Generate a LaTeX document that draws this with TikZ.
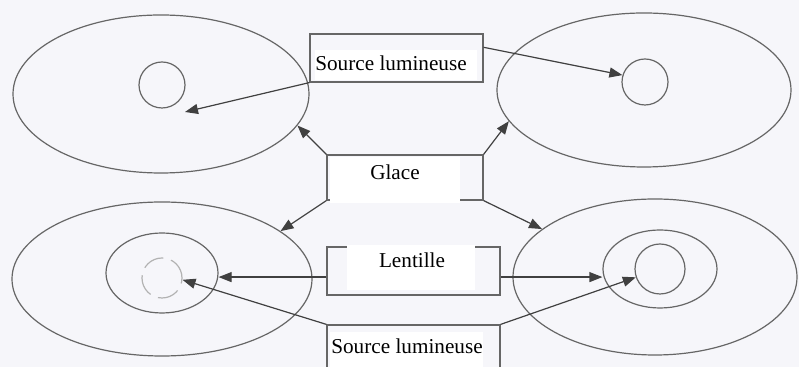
\documentclass[tikz,border=0pt]{standalone}
\usepackage{fontspec}
\setmainfont{Liberation Serif}
\usetikzlibrary{shapes.geometric,arrows.meta}
\definecolor{fond}{RGB}{246,246,250}
\tikzset{
  oval/.style={ellipse,draw=black!60,line width=0.6pt,inner sep=0pt},
  rond/.style={circle,draw=black!60,line width=0.6pt,inner sep=0pt},
  boite/.style={draw=black!60,line width=0.6pt,inner sep=0pt},
  blanc/.style={fill=white,inner sep=0pt},
  txt/.style={inner sep=0pt,font=\fontsize{10.6}{12}\selectfont},
  fl/.style={draw=black!75,line width=0.6pt,-{Triangle[length=6.5pt,width=5pt]}}
}
\begin{document}
\begin{tikzpicture}[x=0.5pt,y=-0.5pt]
\fill[fond] (0,0) rectangle (799,367);
\useasboundingbox (0,0) rectangle (799,367);
% les quatre ovales
\node[oval,minimum width=148pt,minimum height=79pt] (hg) at (161,94) {};
\node[oval,minimum width=147pt,minimum height=77pt] (hd) at (644,90) {};
\node[oval,minimum width=150pt,minimum height=77pt] (bg) at (162,279) {};
\node[oval,minimum width=142pt,minimum height=78pt] (bd) at (655,277) {};
\node[oval,minimum width=56pt,minimum height=40pt] (bgi) at (162,273) {};
\node[oval,minimum width=57pt,minimum height=39pt] (bdi) at (660,269) {};
\node[rond,minimum size=23pt] (chg) at (162,85) {};
\node[rond,minimum size=23pt] (chd) at (645,82) {};
\node[rond,minimum size=20pt,draw=black!30,dash pattern=on 11pt off 4pt] (cbg) at (162,278) {};
\node[rond,minimum size=25pt] (cbd) at (660,269) {};
% les cadres
\node[boite,minimum width=86.5pt,minimum height=24pt] (src1) at (396.5,58) {};
\node[boite,minimum width=78pt,minimum height=22.5pt] (glace) at (405,177.5) {};
\node[boite,minimum width=86.5pt,minimum height=24pt] (lent) at (413.5,271) {};
\node[boite,minimum width=86.5pt,minimum height=27.5pt] (src2) at (413.5,352.5) {};
% les textes
\node[blanc,minimum width=81pt,minimum height=15pt] (p1) at (396,65) {};
\node[txt] (t1) at (391,63) {Source lumineuse};
\node[blanc,minimum width=65pt,minimum height=23pt] (p2) at (395,180) {};
\node[txt] (t2) at (395,172) {Glace};
\node[blanc,minimum width=64pt,minimum height=22.5pt] (p3) at (411,267.5) {};
\node[txt] (t3) at (412,260) {Lentille};
\node[blanc,minimum width=76.5pt,minimum height=20pt] (p4) at (406.5,352) {};
\node[txt] (t4) at (407,346) {Source lumineuse};
% les fleches
\coordinate (v1) at (185,112);
\draw[fl] (src1.south west) -- (v1);
\draw[fl] (src1.7) -- (chd.163);
\draw[fl] (glace.north west) -- (hg.-13.5);
\draw[fl] (glace.north east) -- (hd.193);
\draw[fl] (glace.south west) -- (bg.22);
\draw[fl] (glace.south east) -- (bd.157);
\draw[fl] (lent.184) -- (lent.184 -| bgi.east);
\draw[fl] (lent.-4) -- (lent.-4 -| bdi.west);
\draw[fl] (src2.north west) -- (cbg.-5);
\draw[fl] (src2.north east) -- (cbd.199);
\end{tikzpicture}
\end{document}
